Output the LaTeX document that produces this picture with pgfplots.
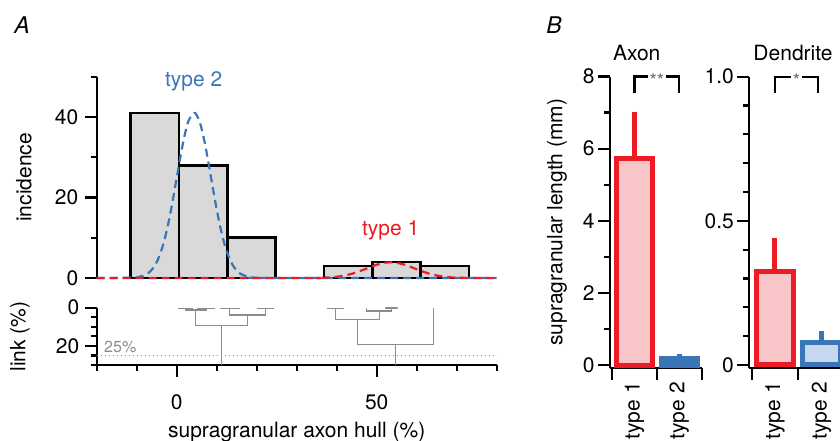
\documentclass[border=0pt]{standalone}
\usepackage{fontspec}
\setmainfont{TeX Gyre Heros}
\usepackage{pgfplots}
\pgfplotsset{compat=1.18}

\definecolor{t1red}{HTML}{ED1C24}
\definecolor{t1pink}{HTML}{F8C5C8}
\definecolor{t2blue}{HTML}{3A75B8}
\definecolor{t2light}{HTML}{C6D8EE}
\definecolor{histgray}{HTML}{D9D9D9}
\definecolor{dendgray}{HTML}{8C8C8C}

\pgfplotsset{
  every axis/.append style={
    scale only axis,
    anchor=south west,
    axis lines=left,
    axis line style={-, line width=2.2bp, black},
    tick style={line width=2.2bp, black},
    tick align=outside,
    major tick length=12bp,
    minor tick length=6bp,
    font=\fontsize{21bp}{25bp}\selectfont,
    /pgf/number format/assume math mode=true,
    clip=false,
  },
}

\begin{document}
\begin{tikzpicture}[font=\fontsize{21bp}{25bp}\selectfont]
\useasboundingbox (0,0) rectangle (840bp,-441bp);
\clip (0,0) rectangle (840bp,-441bp);

% ---- A: histogram of supragranular axon hull
\begin{axis}[
  at={(96.7bp,-278bp)}, width=400bp, height=201.3bp,
  xmin=-20, xmax=80, ymin=0, ymax=50,
  x axis line style={draw=none}, xtick=\empty,
  ytick={0,20,40}, minor ytick={10,30,50},
  yticklabel shift=3bp,
  ylabel={incidence},
  ylabel style={at={(axis description cs:-0.182,0.5)}, anchor=center},
]
\addplot[ybar interval, fill=histgray, draw=black, line width=2.5bp]
  coordinates {(-11.5,41) (0.58,28) (12.66,10) (24.74,10)};
\addplot[ybar interval, fill=histgray, draw=black, line width=2.5bp]
  coordinates {(36.82,3) (48.9,4) (60.98,3) (73.06,3)};
% type 2 fit
\addplot[t2blue, line width=2.2bp, dash pattern=on 8bp off 5bp, smooth]
  coordinates {(-20,0) (-12,0.05) (-10,0.16) (-8,0.69) (-7,1.30) (-6,2.33) (-5,3.95)
  (-4,6.36) (-3,9.7) (-2,14.02) (-1,19.18) (0,24.87) (1,30.54) (2,35.54) (3,39.17)
  (4.3,41) (5,40.46) (6,37.92) (7,33.66) (8,28.31) (9,22.56) (10,17.03) (11,12.18)
  (12,8.25) (13,5.29) (14,3.22) (15,1.85) (16,1.01) (18,0.26) (20,0.05) (22,0) (80,0)};
% type 1 fit
\addplot[t1red, line width=2.2bp, dash pattern=on 8bp off 5bp, smooth]
  coordinates {(-20,0) (32,0) (35,0.03) (38,0.14) (40,0.31) (42,0.62) (44,1.11)
  (46,1.79) (48,2.56) (50,3.29) (52,3.78) (53.5,3.9) (55,3.78) (57,3.29) (59,2.56)
  (61,1.79) (63,1.11) (65,0.62) (67,0.31) (69,0.14) (72,0.03) (75,0) (80,0)};
\node[text=t2blue] at (axis cs:4.25,48.9) {type 2};
\node[text=t1red] at (axis cs:53.5,11.9) {type 1};
\end{axis}

% ---- A: dendrogram (link %)
\begin{axis}[
  at={(96.7bp,-365bp)}, width=400bp, height=57.3bp,
  xmin=-20, xmax=80, ymin=-30, ymax=0,
  xtick={0,50}, minor xtick={-20,-10,10,20,30,40,60,70,80},
  ytick={-20,0}, yticklabels={20,0}, minor ytick={-30,-25,-15,-10,-5},
  yticklabel shift=2bp, xticklabel shift=14bp,
  xlabel={supragranular axon hull (\%)},
  xlabel style={at={(axis description cs:0.5,-1.17)}, anchor=center},
  ylabel={link (\%)},
  ylabel style={at={(axis description cs:-0.192,0.5)}, anchor=center},
]
\addplot[dendgray, line width=1.2bp, dash pattern=on 1.5bp off 2.5bp]
  coordinates {(-20,-25) (80,-25)};
\node[text=dendgray, anchor=west, font=\fontsize{16bp}{18bp}\selectfont]
  at (axis cs:-19.0,-20.6) {25\%};
% left cluster
\addplot[dendgray, line width=1.1bp] coordinates {(0.5,0) (0.5,-0.25) (4.0,-0.25) (4.0,0)};
\addplot[dendgray, line width=1.1bp] coordinates {(5.3,0) (5.3,-0.25) (9.5,-0.25) (9.5,0)};
\addplot[dendgray, line width=1.1bp] coordinates {(2.25,-0.25) (2.25,-1.2) (7.4,-1.2) (7.4,-0.25)};
\addplot[dendgray, line width=1.1bp] coordinates {(11.0,0) (11.0,-0.25) (15.6,-0.25) (15.6,0)};
\addplot[dendgray, line width=1.1bp] coordinates {(20.3,0) (20.3,-0.25) (24.2,-0.25) (24.2,0)};
\addplot[dendgray, line width=1.1bp] coordinates {(13.3,-0.25) (13.3,-3.8) (22.25,-3.8) (22.25,-0.25)};
\addplot[dendgray, line width=1.1bp] coordinates {(4.8,-1.2) (4.8,-9.1) (17.8,-9.1) (17.8,-3.8)};
\addplot[dendgray, line width=1.1bp] coordinates {(11.3,-9.1) (11.3,-30)};
% right cluster
\addplot[dendgray, line width=1.1bp] coordinates {(37.7,0) (37.7,-0.3) (41.6,-0.3) (41.6,0)};
\addplot[dendgray, line width=1.1bp] coordinates {(52.1,0) (52.1,-0.15) (55.3,-0.15) (55.3,0)};
\addplot[dendgray, line width=1.1bp] coordinates {(47.5,0) (47.5,-1.7) (53.7,-1.7) (53.7,-0.15)};
\addplot[dendgray, line width=1.1bp] coordinates {(39.65,-0.3) (39.65,-6.1) (50.6,-6.1) (50.6,-1.7)};
\addplot[dendgray, line width=1.1bp] coordinates {(45.1,-6.1) (45.1,-19.2) (64.25,-19.2) (64.25,0)};
\addplot[dendgray, line width=1.1bp] coordinates {(54.7,-19.2) (54.7,-30)};
\end{axis}

% ---- B: axon
\begin{axis}[
  at={(610bp,-367.7bp)}, width=91.6bp, height=291.2bp,
  xmin=-0.05, xmax=2, ymin=-0.075, ymax=8,
  xtick={0,1,2}, xticklabels={,,},
  extra x ticks={0.5,1.5}, extra x tick labels={type 1,type 2},
  extra x tick style={major tick length=0pt,
    xticklabel style={yshift=-11bp, rotate=90, anchor=east}},
  ytick={0,2,4,6,8}, minor ytick={1,3,5,7},
  ylabel={supragranular length (mm)},
  ylabel style={at={(axis description cs:-0.579,0.5)}, anchor=center},
]
\addplot[ybar, bar width=0.8, bar shift=0pt, fill=t1pink, draw=t1red, line width=5bp,
  error bars/.cd, y dir=plus, y explicit, error mark=none,
  error bar style={line width=5bp, t1red}]
  coordinates {(0.5,5.72) +- (0,1.3)};
\addplot[ybar, bar width=0.8, bar shift=0pt, fill=t2blue, draw=t2blue, line width=5bp,
  error bars/.cd, y dir=plus, y explicit, error mark=none,
  error bar style={line width=5bp, t2blue}]
  coordinates {(1.5,0.18) +- (0,0.12)};
\addplot[black, line width=2.2bp] coordinates {(0.5,7.55) (0.5,8) (1.5,8) (1.5,7.55)};
\node[fill=white, inner sep=1.5bp, text=dendgray!80!black, font=\fontsize{19bp}{20bp}\selectfont]
  at (axis cs:1,8) [yshift=-4bp] {**};
\end{axis}

% ---- B: dendrite
\begin{axis}[
  at={(749.3bp,-367.7bp)}, width=95.5bp, height=291bp,
  xmin=-0.05, xmax=2, ymin=-0.0094, ymax=1,
  xtick={0,1,2}, xticklabels={,,},
  extra x ticks={0.5,1.5}, extra x tick labels={type 1,type 2},
  extra x tick style={major tick length=0pt,
    xticklabel style={yshift=-11bp, rotate=90, anchor=east}},
  ytick={0,0.5,1}, yticklabels={0,0.5,1.0},
  minor ytick={0.1,0.2,0.3,0.4,0.6,0.7,0.8,0.9},
]
\addplot[ybar, bar width=0.8, bar shift=0pt, fill=t1pink, draw=t1red, line width=5bp,
  error bars/.cd, y dir=plus, y explicit, error mark=none,
  error bar style={line width=5bp, t1red}]
  coordinates {(0.5,0.323) +- (0,0.117)};
\addplot[ybar, bar width=0.8, bar shift=0pt, fill=t2light, draw=t2blue, line width=5bp,
  error bars/.cd, y dir=plus, y explicit, error mark=none,
  error bar style={line width=5bp, t2blue}]
  coordinates {(1.5,0.078) +- (0,0.04)};
\addplot[black, line width=2.2bp] coordinates {(0.5,0.942) (0.5,1) (1.43,1) (1.43,0.942)};
\node[fill=white, inner sep=1.5bp, text=dendgray!80!black, font=\fontsize{19bp}{20bp}\selectfont]
  at (axis cs:0.965,1) [yshift=-4bp] {*};
\end{axis}

\node at (636.7bp,-53bp) {Axon};
\node at (793bp,-53bp) {Dendrite};
\node[font=\fontsize{23bp}{27bp}\selectfont\itshape] at (22bp,-25bp) {A};
\node[font=\fontsize{23bp}{27bp}\selectfont\itshape] at (554bp,-25bp) {B};
\end{tikzpicture}
\end{document}
